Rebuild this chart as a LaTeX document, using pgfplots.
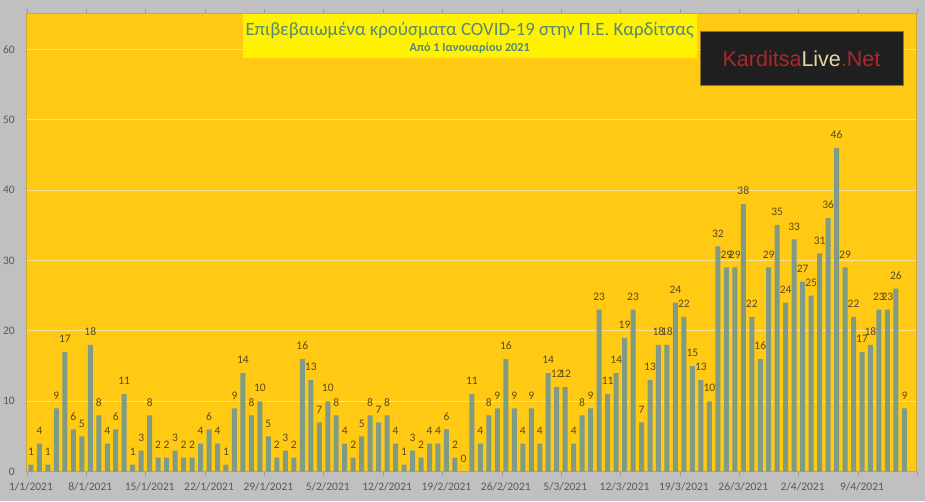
\documentclass[border=0pt]{standalone}
\usepackage{fontspec}
\setmainfont{Carlito}
\newfontfamily\logofont{Liberation Sans}
\usepackage{pgfplots}
\pgfplotsset{compat=1.18}
\definecolor{bgray}{HTML}{C0C0C0}
\definecolor{plotyel}{HTML}{FFC914}
\definecolor{barcol}{HTML}{7F9A85}
\definecolor{lblcol}{HTML}{5A4A1E}
\definecolor{tickcol}{HTML}{595959}
\definecolor{gridcol}{HTML}{F7E29A}
\definecolor{titlecol}{HTML}{558877}
\definecolor{logored}{HTML}{B0262A}
\definecolor{logoyel}{HTML}{E6D6A6}
\definecolor{bordercol}{HTML}{C9A93A}
\begin{document}
\begin{tikzpicture}[x=1pt,y=1pt]
\fill[bgray] (0,0) rectangle (925,501);
\useasboundingbox (0,0) rectangle (925,501);
\begin{axis}[at={(26.7pt,29.3pt)}, anchor=south west, scale only axis,
  width=890pt, height=458.4pt,
  xmin=-0.5, xmax=104.45, ymin=0, ymax=65.1,
  axis background/.style={fill=plotyel},
  axis line style={draw=bordercol, line width=0.6pt},
  ybar, bar width=5pt,
  ytick={0,10,...,60}, ymajorgrids, grid style={gridcol, line width=0.8pt},
  xtick={0,7,...,98},
  xticklabels={1/1/2021,8/1/2021,15/1/2021,22/1/2021,29/1/2021,5/2/2021,12/2/2021,19/2/2021,26/2/2021,5/3/2021,12/3/2021,19/3/2021,26/3/2021,2/4/2021,9/4/2021},
  major tick length=0pt,
  extra x ticks={-0.5,6.5,13.5,20.5,27.5,34.5,41.5,48.5,55.5,62.5,69.5,76.5,83.5,90.5,97.5,104.45},
  extra x tick labels={},
  extra x tick style={major tick length=4pt, tick align=outside, tick style={draw=tickcol!60}},
  /pgf/number format/assume math mode=true,
  tick label style={font=\fontsize{11.5}{12}\selectfont, text=tickcol},
  xticklabel style={anchor=base, yshift=-19pt, inner sep=0pt},
  yticklabel style={anchor=east, xshift=-11.7pt, inner sep=0pt},
  nodes near coords,
  nodes near coords style={font=\fontsize{11.5}{12}\selectfont, text=lblcol, anchor=base, yshift=9.3pt, inner sep=0pt},
]
\addplot[fill=barcol, draw=none] coordinates {
(0,1) (1,4) (2,1) (3,9) (4,17) (5,6) (6,5) (7,18) (8,8) (9,4) (10,6) (11,11) (12,1) (13,3) (14,8) (15,2) (16,2) (17,3) (18,2) (19,2) (20,4) (21,6) (22,4) (23,1) (24,9) (25,14) (26,8) (27,10) (28,5) (29,2) (30,3)
(31,2) (32,16) (33,13) (34,7) (35,10) (36,8) (37,4) (38,2) (39,5) (40,8) (41,7) (42,8) (43,4) (44,1) (45,3) (46,2) (47,4) (48,4) (49,6) (50,2) (51,0) (52,11) (53,4) (54,8) (55,9) (56,16) (57,9) (58,4)
(59,9) (60,4) (61,14) (62,12) (63,12) (64,4) (65,8) (66,9) (67,23) (68,11) (69,14) (70,19) (71,23) (72,7) (73,13) (74,18) (75,18) (76,24) (77,22) (78,15) (79,13) (80,10) (81,32) (82,29) (83,29) (84,38) (85,22) (86,16) (87,29) (88,35) (89,24)
(90,33) (91,27) (92,25) (93,31) (94,36) (95,46) (96,29) (97,22) (98,17) (99,18) (100,23) (101,23) (102,26) (103,9)
};
\end{axis}
\fill[yellow] (242.7,443.3) rectangle (696.7,487);
\node[text=titlecol, font=\fontsize{18.8}{20}\selectfont, inner sep=0pt, anchor=base] at (469.7,465.2) {Επιβεβαιωμένα κρούσματα COVID-19 στην Π.Ε. Καρδίτσας};
\node[text=titlecol, font=\bfseries\fontsize{12.2}{14}\selectfont, inner sep=0pt, anchor=base] at (469.7,449.3) {Από 1 Ιανουαρίου 2021};
\fill[black!88, draw=bordercol!70!black, line width=0.6pt] (700,415.3) rectangle (903,469.3);
\node[font=\logofont\fontsize{21.5}{24}\selectfont, inner sep=0pt, anchor=base] at (801.5,434.8) {\textcolor{logored}{Karditsa}\textcolor{logoyel}{Live}\textcolor{logored}{.Net}};
\end{tikzpicture}
\end{document}
